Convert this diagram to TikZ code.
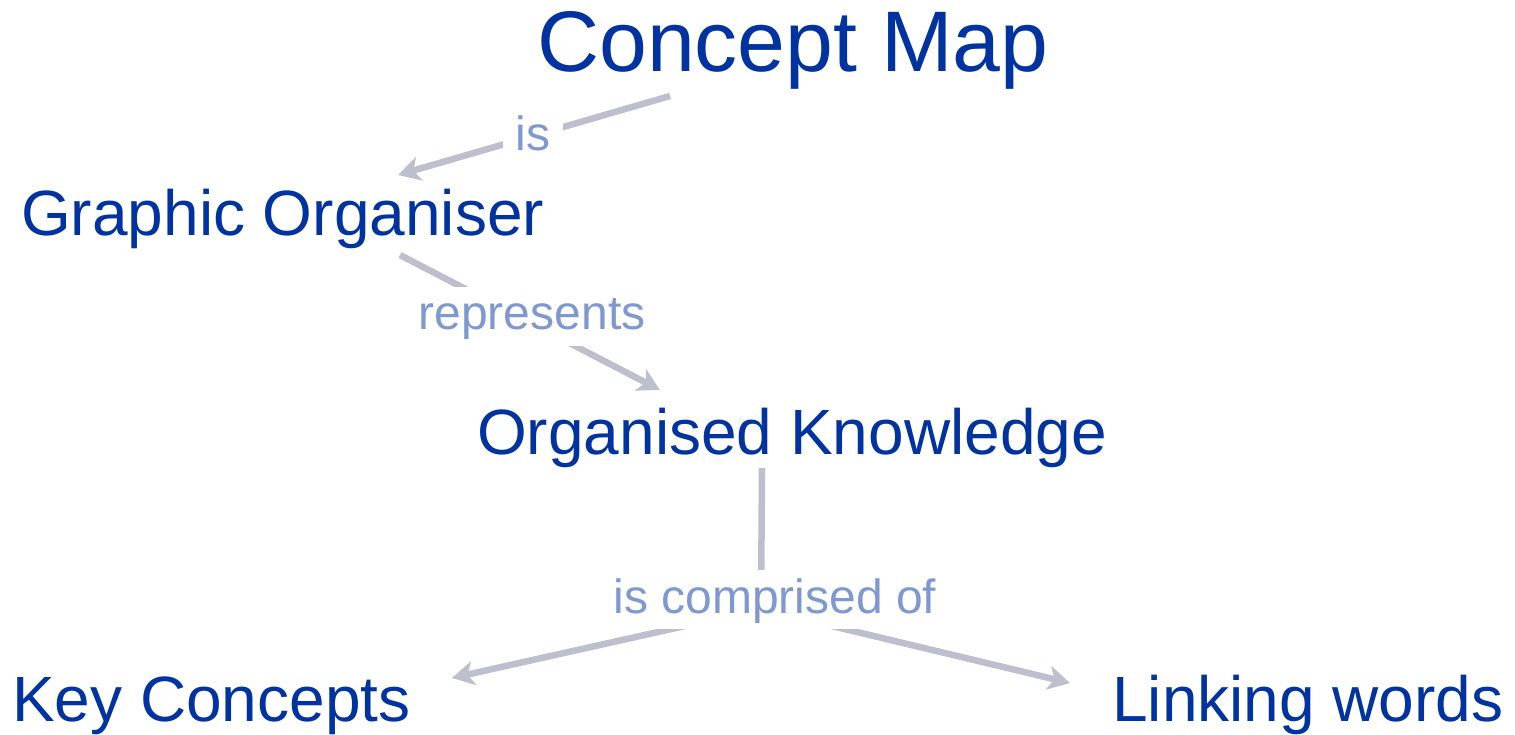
\documentclass[tikz,border=0pt]{standalone}
\usepackage{fontspec}
\setmainfont{Liberation Sans}
\usetikzlibrary{arrows.meta,calc}
\definecolor{conceptblue}{RGB}{0,51,160}
\definecolor{linkblue}{RGB}{127,152,208}
\definecolor{linkgray}{RGB}{190,190,204}
\begin{document}
\begin{tikzpicture}[x=1pt,y=-1pt,
  concept/.style={anchor=base west, inner sep=0pt, text=conceptblue, font=\fontsize{64}{70}\selectfont},
  linklabel/.style={anchor=base, fill=white, text=linkblue, inner xsep=13pt, inner ysep=5pt, text height=38pt, text depth=11pt, font=\fontsize{48}{54}\selectfont},
  link/.style={draw=linkgray, line width=6.5pt},
  linkarrow/.style={link, -{Stealth[length=22pt,width=24pt,inset=6pt]}}]
\useasboundingbox (0,0) rectangle (1515,735);
% concepts
\node[concept, font=\fontsize{86}{94}\selectfont] (cm) at (537,72) {Concept Map};
\node[concept] (go) at (21,236) {Graphic Organiser};
\node[concept] (ok) at (477,454) {Organised Knowledge};
\node[concept] (kc) at (12,721) {Key Concepts};
\node[concept] (lw) at (1112,721) {Linking words};
% connector ends
\coordinate (cmout) at ($(cm.base west)+(133,24)$);
\coordinate (goin) at ($(go.base west)+(377,-61)$);
\coordinate (goout) at ($(go.base west)+(379,19)$);
\coordinate (okin) at ($(ok.base west)+(183,-64)$);
\coordinate (okout) at ($(ok.base west)+(285,14)$);
\coordinate (split) at ($(ok.base west)+(284,155)$);
\coordinate (kcin) at ($(kc.base west)+(440,-43)$);
\coordinate (lwin) at ($(lw.base west)+(-42,-38)$);
% connectors
\draw[linkarrow] (cmout) -- (goin);
\draw[linkarrow] (goout) -- (okin);
\draw[link] (okout) -- (split);
\draw[linkarrow] (split) -- (kcin);
\draw[linkarrow] (split) -- (lwin);
% linking words
\node[linklabel] (is) at (533,151) {is};
\node[linklabel] (rep) at (532,330) {represents};
\node[linklabel] (comp) at (775,613) {is comprised of};
\end{tikzpicture}
\end{document}
